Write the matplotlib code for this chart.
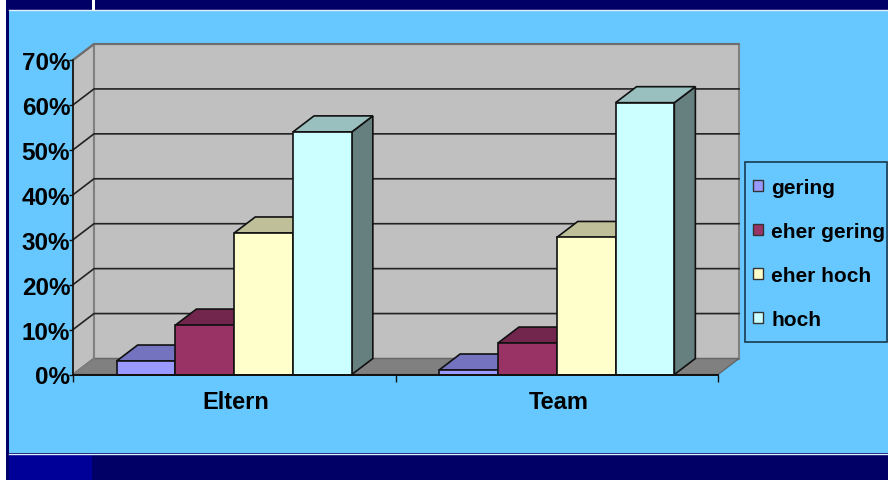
import numpy as np
import matplotlib
matplotlib.use("Agg")
import matplotlib.pyplot as plt
from matplotlib.patches import Rectangle, Polygon
from matplotlib.transforms import ScaledTranslation

plt.rcParams['font.family'] = ['Liberation Sans', 'DejaVu Sans']

# data
categories = ["Eltern", "Team"]
series_names = ["gering", "eher gering", "eher hoch", "hoch"]
values = {
    "gering": [3, 1],
    "eher gering": [11, 7],
    "eher hoch": [31.5, 30.5],
    "hoch": [54, 60.5],
}
colors = ["#9999FF", "#993366", "#FFFFCC", "#CCFFFF"]
y_ticks = [0, 10, 20, 30, 40, 50, 60, 70]

W, H = 888, 481
BG = "#66C8FF"


def shade(col, f):
    r, g, b = matplotlib.colors.to_rgb(col)
    return (r * f, g * f, b * f)


fig = plt.figure(figsize=(W / 100, H / 100), dpi=100, facecolor="white")

# slide background, in pixels
bg = fig.add_axes([0, 0, 1, 1])
bg.set_xlim(0, W)
bg.set_ylim(H, 0)
bg.axis("off")
bg.add_patch(Rectangle((6, 0), W, H, fc="#000066", lw=0))
bg.add_patch(Rectangle((9, 11), W, 443, fc=BG, ec="none"))
bg.plot([9, W], [11, 11], color="#E0F0FF", lw=1)
bg.plot([9, W], [454.5, 454.5], color="#E0F0FF", lw=1)
bg.add_patch(Rectangle((9, 455), 83, 26, fc="#000099", lw=0))
bg.add_patch(Rectangle((92, 0), 3, 10.5, fc="white", lw=0))
# legend frame
bg.add_patch(Rectangle((745, 163), 142, 180, fc=BG, ec="#1A3A50", lw=1.2))

# chart axes = front plane of the 3D box
x0, x1, y0, y70 = 73, 718, 375.5, 61
ax = fig.add_axes([x0 / W, 1 - y0 / H, (x1 - x0) / W, (y0 - y70) / H])
ax.set_xlim(0, 2)
ax.set_ylim(0, 70)
ax.patch.set_alpha(0)
for s in ax.spines.values():
    s.set_visible(False)

dx = 21 / (x1 - x0) * 2      # depth in x units
dy = 16 / (y0 - y70) * 70    # depth in y units
EDGE = "#111111"

# walls and floor
ax.add_patch(Polygon([(0, 0), (dx, dy), (dx, 70 + dy), (0, 70)], fc="#C0C0C0", ec="#808080", lw=1.5, clip_on=False, zorder=1))
ax.add_patch(Rectangle((dx, dy), 2, 70, fc="#C0C0C0", ec="#808080", lw=1.5, clip_on=False, zorder=1))
ax.add_patch(Polygon([(0, 0), (2, 0), (2 + dx, dy), (dx, dy)], fc="#808080", ec="#666666", lw=1, clip_on=False, zorder=1))

# gridlines
for t in y_ticks[1:-1]:
    ax.plot([0, dx, 2 + dx], [t, t + dy, t + dy], color="#222222", lw=1.2, clip_on=False, zorder=2)
ax.plot([0, dx], [0, dy], color="#808080", lw=1, clip_on=False, zorder=2)
ax.plot([0, dx, 2 + dx], [70, 70 + dy, 70 + dy], color="#6E6E6E", lw=1.5, clip_on=False, zorder=2)

# 3D bars, left to right so the later ones cover the earlier ones
bar_w = 58.8 / (x1 - x0) * 2
group_w = bar_w * len(series_names)
z = 3
for c in range(len(categories)):
    left = c + (1 - group_w) / 2
    for i, name in enumerate(series_names):
        v = values[name][c]
        a = left + i * bar_w
        b = a + bar_w
        col = colors[i]
        ax.add_patch(Polygon([(b, 0), (b + dx, dy), (b + dx, v + dy), (b, v)], fc=shade(col, 0.5), ec=EDGE, lw=1.2, clip_on=False, zorder=z))
        ax.add_patch(Polygon([(a, v), (b, v), (b + dx, v + dy), (a + dx, v + dy)], fc=shade(col, 0.75), ec=EDGE, lw=1.2, clip_on=False, zorder=z))
        ax.bar(a, v, width=bar_w, align="edge", color=col, edgecolor=EDGE, linewidth=1.2, zorder=z, clip_on=False)
        z += 1

# axes lines and ticks
ax.plot([0, 0], [0, 70], color="#111111", lw=1.2, clip_on=False, zorder=50)
ax.plot([0, 2], [0, 0], color="#111111", lw=1.4, clip_on=False, zorder=50)
ax.set_yticks(y_ticks)
ax.set_yticklabels([f"{t}%" for t in y_ticks], fontsize=17.5, fontweight="bold", color="#000000")
ax.tick_params(axis="y", length=3, width=1, pad=-1, color="#111111")
ax.set_xticks([0, 1, 2])
ax.set_xticklabels([])
ax.tick_params(axis="x", length=5, width=1, color="#111111")
ax.set_xticks([0.5, 1.5], minor=True)
labels = ax.set_xticklabels(categories, minor=True, fontsize=17, fontweight="bold")
ax.tick_params(axis="x", which="minor", length=0, pad=11.5)
for lab in labels:
    lab.set_transform(lab.get_transform() + ScaledTranslation(2 / 100, 0, fig.dpi_scale_trans))

# legend
handles = [Rectangle((0, 0), 1, 1, fc=colors[i], ec="#333333", lw=1) for i in range(4)]
leg = fig.legend(
    handles, series_names,
    loc="upper left", bbox_to_anchor=(745 / W, 1 - 171 / H),
    prop={"size": 15, "weight": "bold"},
    frameon=False,
    handlelength=0.5, handleheight=0.5, handletextpad=0.38,
    borderpad=0.38, borderaxespad=0, labelspacing=1.2,
)

fig.savefig("out.png", dpi=100, facecolor=fig.get_facecolor())
